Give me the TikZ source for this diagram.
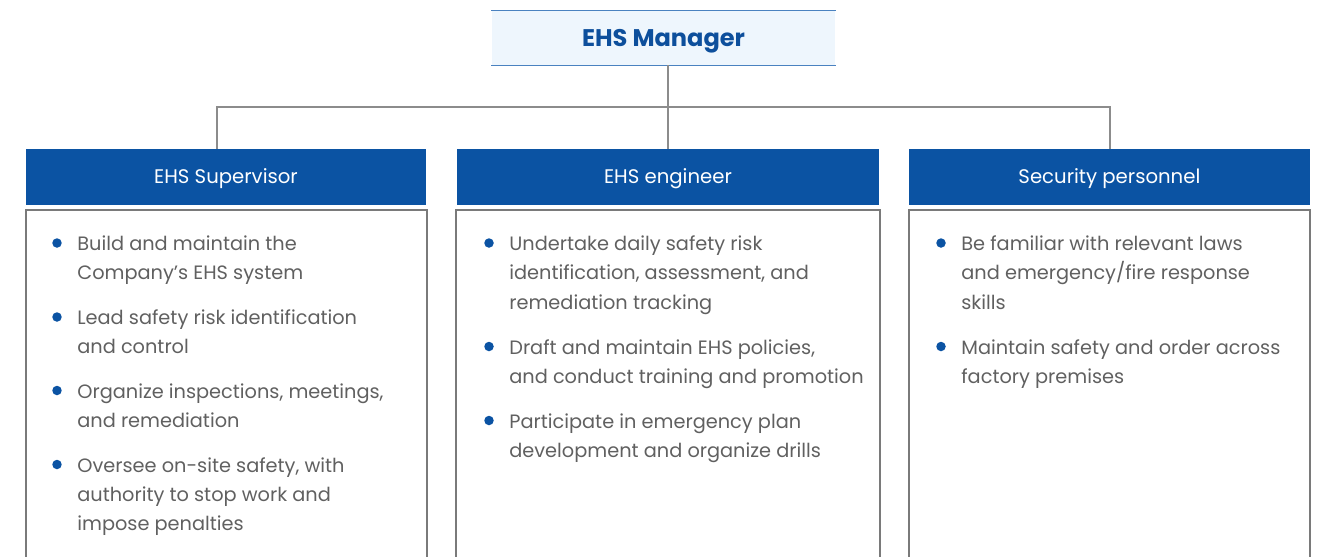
\documentclass[tikz,border=0pt]{standalone}
\usepackage{fontspec}
\setmainfont{Poppins}
\usetikzlibrary{positioning}

\definecolor{ehsblue}{HTML}{0B53A3}
\definecolor{mgrfill}{HTML}{EEF6FD}
\definecolor{mgrline}{HTML}{4A82C0}
\definecolor{mgrtext}{HTML}{0D4F9C}
\definecolor{boxgray}{HTML}{7A7A7A}
\definecolor{linegray}{HTML}{8C8C8C}
\definecolor{textgray}{HTML}{606060}

\tikzset{
  mgrbox/.style={fill=mgrfill, inner sep=0, minimum width=6.88cm, minimum height=1.08cm,
    text height=0.95em, text depth=0pt,
    text=mgrtext, font=\fontsize{13.7}{16}\selectfont\bfseries},
  headbox/.style={fill=ehsblue, inner sep=0, minimum height=1.11cm,
    text height=0.8em, text depth=0pt,
    text=white, font=\fontsize{11.2}{13}\selectfont},
  bodybox/.style={draw=boxgray, line width=1.1pt, anchor=north, inner sep=0, minimum height=8cm},
  % toạ độ của item = đường chân chữ của dòng đầu
  item/.style={anchor=north west, yshift=9.4pt, align=left, inner sep=0, text=textgray,
    font=\fontsize{11.0}{16.7}\selectfont, execute at begin node=\strut},
  bullet/.style={circle, fill=ehsblue, inner sep=0, minimum size=0.19cm},
  link/.style={draw=linegray, line width=0.9pt}
}

\begin{document}
\begin{tikzpicture}[x=0.02cm, y=-0.02cm]
    \useasboundingbox (0,0) rectangle (1325,556);
    \clip (0,0) rectangle (1325,556);

    % 1. EHS Manager
    \node[mgrbox] (mgr) at (663.5,38) {EHS Manager};
    \draw[mgrline, line width=0.8pt] (mgr.north west) -- (mgr.north east);
    \draw[mgrline, line width=0.8pt] (mgr.south west) -- (mgr.south east);

    % 2. Tiêu đề ba bộ phận
    \node[headbox, minimum width=8.02cm] (sup) at (226,176.8) {EHS Supervisor};
    \node[headbox, minimum width=8.44cm] (eng) at (668,176.8) {EHS engineer};
    \node[headbox, minimum width=8.02cm] (sec) at (1109.4,176.8) {Security personnel};

    % Khung nội dung (bị cắt ở mép dưới)
    \node[bodybox, minimum width=8.02cm] (supbody) at (226.3,209.3) {};
    \node[bodybox, minimum width=8.48cm] (engbody) at (668,209.3) {};
    \node[bodybox, minimum width=8.02cm] (secbody) at (1109.4,209.3) {};

    % 3. Đường nối
    \coordinate (jl) at (217,107);
    \coordinate (jr) at (1110,107);
    \draw[link] (jl |- sup.north) -- (jl) -- (jr) -- (jr |- sec.north);
    \draw[link] (eng.north) -- (eng.north |- mgr.south);

    % 4. Nội dung EHS Supervisor
    \node[bullet] (sd1) at (57,243) {};
    \node[item] (s1) at (77,252) {Build and maintain the\\Company’s EHS system};
    \node[bullet] (sd2) at (57,317) {};
    \node[item] (s2) at (77,326) {Lead safety risk identification\\and control};
    \node[bullet] (sd3) at (57,390.5) {};
    \node[item] (s3) at (77,399.5) {Organize inspections, meetings,\\and remediation};
    \node[bullet] (sd4) at (57,464.5) {};
    \node[item] (s4) at (77,473.5) {Oversee on-site safety, with\\authority to stop work and\\impose penalties};

    % Nội dung EHS engineer
    \node[bullet] (ed1) at (489,243) {};
    \node[item] (e1) at (509,252) {Undertake daily safety risk\\identification, assessment, and\\remediation tracking};
    \node[bullet] (ed2) at (489,346.5) {};
    \node[item] (e2) at (509,355.5) {Draft and maintain EHS policies,\\and conduct training and promotion};
    \node[bullet] (ed3) at (489,420.5) {};
    \node[item] (e3) at (509,429.5) {Participate in emergency plan\\development and organize drills};

    % Nội dung Security personnel
    \node[bullet] (cd1) at (941,243) {};
    \node[item] (c1) at (961,252) {Be familiar with relevant laws\\and emergency/fire response\\skills};
    \node[bullet] (cd2) at (941,346.5) {};
    \node[item] (c2) at (961,355.5) {Maintain safety and order across\\factory premises};

\end{tikzpicture}
\end{document}
